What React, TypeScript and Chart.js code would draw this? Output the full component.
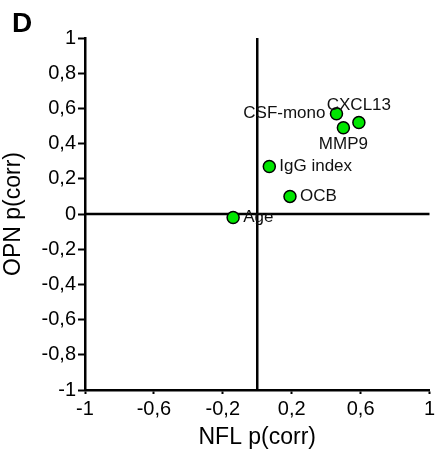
import React, { useEffect, useRef } from "react";
import { Chart, registerables } from "chart.js";

Chart.register(...registerables);

const pointNames = ["Age", "IgG index", "OCB", "CSF-mono", "MMP9", "CXCL13"];
const nflCorr = [-0.14, 0.07, 0.19, 0.46, 0.5, 0.59];
const opnCorr = [-0.02, 0.27, 0.1, 0.57, 0.49, 0.52];

const xTitle = "NFL p(corr)";
const yTitle = "OPN p(corr)";
const panelLetter = "D";

const labelPlacement: Record<string, string> = {
  Age: "right",
  "IgG index": "right",
  OCB: "right",
  "CSF-mono": "left",
  MMP9: "below",
  CXCL13: "above",
};

const FONT = '"Liberation Sans", Arial, sans-serif';

const fmt = (v: any) => {
  const r = Math.round(Number(v) * 10) / 10;
  return String(r).replace(".", ",");
};

const crossLines = {
  id: "crossLines",
  beforeDatasetsDraw(chart: any) {
    const { ctx, chartArea, scales } = chart;
    const x0 = scales.x.getPixelForValue(0);
    const y0 = scales.y.getPixelForValue(0);
    ctx.save();
    ctx.strokeStyle = "#000";
    ctx.lineWidth = 2.5;
    ctx.beginPath();
    ctx.moveTo(x0, chartArea.top);
    ctx.lineTo(x0, chartArea.bottom);
    ctx.moveTo(chartArea.left, y0);
    ctx.lineTo(chartArea.right, y0);
    ctx.stroke();
    ctx.restore();
  },
};

const pointLabels = {
  id: "pointLabels",
  afterDatasetsDraw(chart: any) {
    const { ctx } = chart;
    const meta = chart.getDatasetMeta(0);
    ctx.save();
    ctx.font = `17px ${FONT}`;
    ctx.fillStyle = "#111";
    meta.data.forEach((el: any, i: number) => {
      const name = pointNames[i];
      const p = labelPlacement[name] || "right";
      let x = el.x;
      let y = el.y;
      ctx.textBaseline = "middle";
      if (p === "right") {
        ctx.textAlign = "left";
        x += 10;
      } else if (p === "left") {
        ctx.textAlign = "right";
        x -= 11;
      } else if (p === "above") {
        ctx.textAlign = "center";
        y -= 17;
      } else {
        ctx.textAlign = "center";
        y += 17;
      }
      ctx.fillText(name, x, y);
    });
    ctx.restore();
  },
};

const letterPlugin = {
  id: "panelLetter",
  afterDraw(chart: any) {
    const { ctx } = chart;
    ctx.save();
    ctx.font = `bold 28px ${FONT}`;
    ctx.fillStyle = "#000";
    ctx.textAlign = "left";
    ctx.textBaseline = "alphabetic";
    ctx.fillText(panelLetter, 12, 32);
    ctx.restore();
  },
};

export default function App() {
  const ref = useRef<HTMLCanvasElement>(null);

  useEffect(() => {
    if (!ref.current) return;
    const chart = new Chart(ref.current, {
      type: "scatter",
      data: {
        datasets: [
          {
            data: nflCorr.map((x, i) => ({ x, y: opnCorr[i] })),
            backgroundColor: "#00e600",
            borderColor: "#000",
            borderWidth: 1.5,
            pointRadius: 6,
            pointHoverRadius: 6,
          },
        ],
      },
      options: {
        responsive: false,
        animation: false,
        layout: { padding: { top: 38, right: 0, bottom: 0, left: 0 } },
        plugins: {
          legend: { display: false },
          tooltip: { enabled: false },
        },
        scales: {
          x: {
            type: "linear",
            min: -1,
            max: 1,
            afterFit(scale: any) {
              scale.height = 61;
              scale.paddingRight = 6;
            },
            ticks: {
              stepSize: 0.4,
              autoSkip: false,
              maxRotation: 0,
              color: "#000",
              padding: 3,
              font: { family: FONT, size: 20 },
              callback: (v: any) => fmt(v),
            },
            grid: {
              drawOnChartArea: false,
              drawTicks: true,
              tickLength: 4,
              tickColor: "#000",
              tickWidth: 2,
            },
            border: { display: true, color: "#000", width: 2.5 },
            title: {
              display: true,
              text: xTitle,
              color: "#000",
              font: { family: FONT, size: 23 },
              padding: { top: 3, bottom: 0 },
            },
          },
          y: {
            type: "linear",
            min: -1,
            max: 1,
            afterFit(scale: any) {
              scale.width = 85;
            },
            ticks: {
              stepSize: 0.2,
              autoSkip: false,
              color: "#000",
              padding: 2,
              font: { family: FONT, size: 20 },
              callback: (v: any) => fmt(v),
            },
            grid: {
              drawOnChartArea: false,
              drawTicks: true,
              tickLength: 7,
              tickColor: "#000",
              tickWidth: 2,
            },
            border: { display: true, color: "#000", width: 2.5 },
            title: {
              display: true,
              text: yTitle,
              color: "#000",
              font: { family: FONT, size: 23 },
              padding: { top: 0, bottom: 0 },
            },
          },
        },
      },
      plugins: [crossLines, pointLabels, letterPlugin],
    });
    return () => chart.destroy();
  }, []);

  return (
    <div style={{ position: "fixed", left: 0, top: 0, width: 437, height: 451, background: "#fff" }}>
      <canvas ref={ref} width={437} height={451} style={{ display: "block" }} />
    </div>
  );
}
